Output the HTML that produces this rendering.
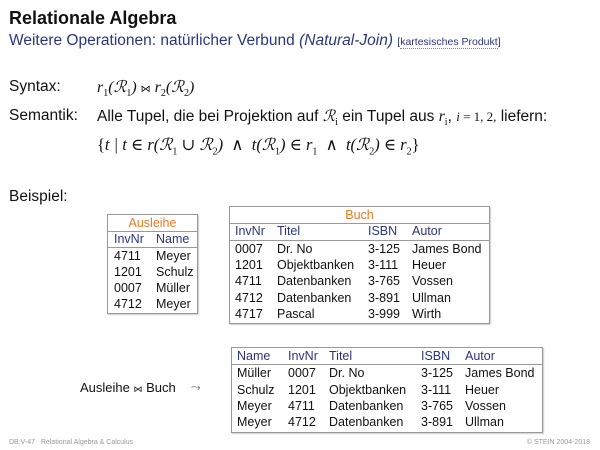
<!DOCTYPE html>
<html><head><meta charset="utf-8">
<style>
body{margin:0;width:600px;height:450px;background:#fff;position:relative;overflow:hidden;font-family:"Liberation Sans",sans-serif;color:#111}
.a{position:absolute;white-space:nowrap}
.m{font-family:"Liberation Serif","DejaVu Serif",serif;font-style:italic}
.tb{position:absolute;border:1px solid #999;box-shadow:1px 1px 1px #ccc}
.c{position:absolute;font-size:12.5px;white-space:nowrap;line-height:14px}
.ln{position:absolute;left:0;right:0;height:1px;background:#999}
sub{font-size:10px;font-style:normal}
</style></head><body>
<div class="a" style="left:9px;top:8px;font-size:18px;font-weight:bold">Relationale Algebra</div>
<div class="a" style="left:9px;top:32px;font-size:15.5px;color:#2a3682">Weitere Operationen: natürlicher Verbund <i>(Natural-Join)</i> <span style="font-size:10.5px;color:#2a3682">[<span style="border-bottom:1px dotted #88a">kartesisches Produkt</span>]</span></div>
<div class="a" style="left:9px;top:78px;font-size:15.5px">Syntax:</div>
<div class="a m" style="left:97px;top:77px;font-size:16px">r<sub>1</sub>(ℛ<sub>1</sub>) <span style="font-style:normal;font-size:10px">⋈</span> r<sub>2</sub>(ℛ<sub>2</sub>)</div>
<div class="a" style="left:9px;top:107px;font-size:15.5px">Semantik:</div>
<div class="a" style="left:97px;top:107px;font-size:15.5px">Alle Tupel, die bei Projektion auf <span class="m">ℛ<sub>i</sub></span> ein Tupel aus <span class="m">r<sub>i</sub></span>, <span class="m" style="font-size:13px">i</span><span style="font-family:'Liberation Serif',serif;font-size:13px"> = 1, 2,</span> liefern:</div>
<div class="a m" style="left:97px;top:135px;font-size:16.5px"><span style="font-style:normal">{</span>t | t ∈ r(ℛ<sub>1</sub> ∪ ℛ<sub>2</sub>) &nbsp;∧&nbsp; t(ℛ<sub>1</sub>) ∈ r<sub>1</sub> &nbsp;∧&nbsp; t(ℛ<sub>2</sub>) ∈ r<sub>2</sub><span style="font-style:normal">}</span></div>
<div class="a" style="left:9px;top:188px;font-size:15.5px">Beispiel:</div>
<div class="a" style="left:80px;top:380px;font-size:13px">Ausleihe <span style="font-size:9px">⋈</span> Buch</div>
<div class="a" style="left:191px;top:380px;font-size:12px;color:#666">⤳</div>
<div class="a" style="left:9px;top:439px;font-size:7px;color:#999">DB:V-47 &nbsp; Relational Algebra &amp; Calculus</div>
<div class="a" style="right:10px;top:439px;font-size:7px;color:#999">© STEIN 2004-2018</div>
<script>
const ausCols=[6,48], ausHead=["InvNr","Name"], ausRows=[["4711","Meyer"],["1201","Schulz"],["0007","Müller"],["4712","Meyer"]];
const buchCols=[5,47,138,182], buchHead=["InvNr","Titel","ISBN","Autor"], buchRows=[["0007","Dr. No","3-125","James Bond"],["1201","Objektbanken","3-111","Heuer"],["4711","Datenbanken","3-765","Vossen"],["4712","Datenbanken","3-891","Ullman"],["4717","Pascal","3-999","Wirth"]];
const resCols=[5,56,97,189,233], resHead=["Name","InvNr","Titel","ISBN","Autor"], resRows=[["Müller","0007","Dr. No","3-125","James Bond"],["Schulz","1201","Objektbanken","3-111","Heuer"],["Meyer","4711","Datenbanken","3-765","Vossen"],["Meyer","4712","Datenbanken","3-891","Ullman"]];
function table(name,x,y,w,title,cols,head,rows,rh){
  const t=document.createElement('div');t.className='tb';
  
  
  let yy=1;
  if(title){
    const c=document.createElement('div');c.className='c';c.textContent=title;
    
    
    c.style.cssText='left:0;right:0;text-align:center;color:#e87b1e;top:'+yy+'px';t.appendChild(c);
    yy+=rh;const l=document.createElement('div');l.className='ln';l.style.top=(yy-1)+'px';t.appendChild(l);
  }
  head.forEach((h,i)=>{const c=document.createElement('div');c.className='c';c.textContent=h;
    
    
    c.style.cssText='color:#2a3682;left:'+cols[i]+'px;top:'+yy+'px';t.appendChild(c);});
  yy+=rh;const l=document.createElement('div');l.className='ln';l.style.top=(yy-1)+'px';t.appendChild(l);
  rows.forEach((r,ri)=>{r.forEach((v,i)=>{const c=document.createElement('div');c.className='c';c.textContent=v;
    
    
    c.style.cssText='left:'+cols[i]+'px;top:'+(yy+1)+'px';t.appendChild(c);});yy+=rh;});
  t.style.cssText='left:'+x+'px;top:'+y+'px;width:'+w+'px;height:'+(yy+1)+'px';
  document.body.appendChild(t);
}
table('ausleihe-table',107,214,89,'Ausleihe',ausCols,ausHead,ausRows,16);
table('buch-table',229,206,259,'Buch',buchCols,buchHead,buchRows,16.3);
table('result-table',231,347,310,null,resCols,resHead,resRows,16.3);
</script>
</body></html>
